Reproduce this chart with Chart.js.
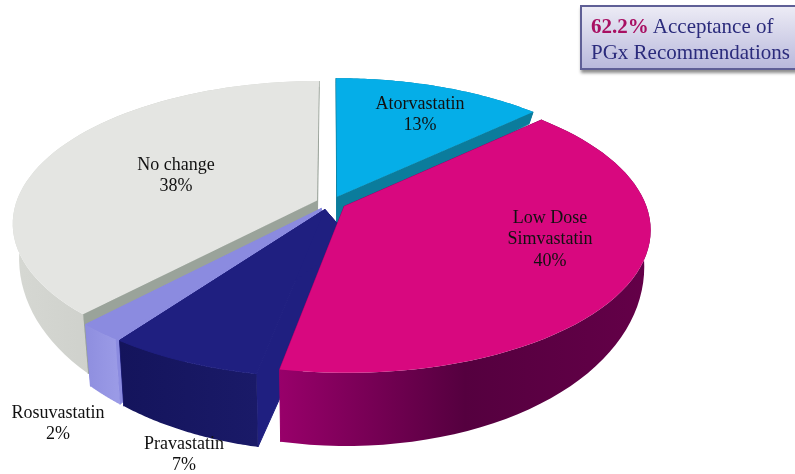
<!DOCTYPE html>
<html>
<head>
<meta charset="utf-8">
<script src="https://cdn.jsdelivr.net/npm/chart.js@4"></script>
<style>
  html, body { margin: 0; padding: 0; background: #fff; overflow: hidden; }
  #wrap { position: relative; width: 795px; height: 474px; }
  #callout {
    position: absolute; left: 580px; top: 5px; width: 225px; height: 65px;
    border: 1px solid #5f5f96; border-width: 2px 1px 2px 2px;
    background: linear-gradient(#ecebf5, #b9b9dc);
    box-shadow: 1px 3px 3px rgba(0,0,0,.45);
    font: 21px/26px "Liberation Serif", serif; color: #2b2b7c;
    padding-left: 9px; box-sizing: border-box; padding-top: 6px; white-space: nowrap;
  }
  #callout b { color: #a80f62; }
</style>
</head>
<body>
<div id="wrap">
  <canvas id="grafica_quesitos" width="795" height="474"></canvas>
  <div id="callout"><b>62.2%</b> Acceptance of<br>PGx Recommendations</div>
</div>
<script>
/*-----Datos-----*/
const categorias = ['Atorvastatin', 'Low Dose Simvastatin', 'Pravastatin', 'Rosuvastatin', 'No change'];
const valores = [13, 40, 7, 2, 38];

/*-----Colores-----*/
const colores = ['#05aee8', '#d8087f', '#1f1f80', '#8b8be0', '#e4e5e2'];
const coloresPared = [
  ['#0b7c9c', '#0b7c9c'],
  ['#98006a', '#55003f', '#640048'],
  ['#14145c', '#1a1a68'],
  ['#8e8edf', '#9a9ae6'],
  ['#d6d8d3', '#c8cac5', '#dcddd9']
];
const coloresLado = ['#0b7c9c', '#98006a', '#1f1f80', '#8b8be0', '#9aa39a'];

/*-----Etiquetas: líneas y posición-----*/
const etiquetas = [
  { lineas: ['Atorvastatin', '13%'], x: 420, y: 104 },
  { lineas: ['Low Dose', 'Simvastatin', '40%'], x: 550, y: 218 },
  { lineas: ['Pravastatin', '7%'], x: 184, y: 444 },
  { lineas: ['Rosuvastatin', '2%'], x: 58, y: 413 },
  { lineas: ['No change', '38%'], x: 176, y: 165 }
];

/*-----Perspectiva del queso-----*/
const ESCALA_X = 1.483, ESCALA_Y = 0.685, FUGA = 0.158, SEPARA = 0.05;
const ORDEN = [4, 0, 3, 2, 1]; // de atrás hacia delante
const AJUSTE_APICE = [0, 0, 26, 0, 0];

function altoPared(Y) {
  return Y > 0 ? 28 + 44 * Y : 28 + 22 * Y;
}

function proyecta(el, X, Y, abajo) {
  const w = 1 - FUGA * Y;
  const r = el.outerRadius;
  return {
    x: el.x + r * ESCALA_X * X / w * (abajo ? 0.98 : 1),
    y: el.y + r * ESCALA_Y * Y / w + (abajo ? altoPared(Y) : 0)
  };
}

function relleno(ctx, puntos, color, tapar) {
  ctx.beginPath();
  puntos.forEach((p, i) => i ? ctx.lineTo(p.x, p.y) : ctx.moveTo(p.x, p.y));
  ctx.closePath();
  ctx.fillStyle = color;
  ctx.fill();
  if (tapar) { // tapa la costura con la pared
    ctx.strokeStyle = color;
    ctx.lineWidth = 1;
    ctx.stroke();
  }
}

const queso3d = {
  id: 'queso3d',
  beforeDatasetDraw(chart) {
    const ctx = chart.ctx;
    const arcos = chart.getDatasetMeta(0).data;
    ctx.save();
    ORDEN.forEach(i => {
      const el = arcos[i];
      const medio = (el.startAngle + el.endAngle) / 2;
      const ox = SEPARA * Math.cos(medio), oy = SEPARA * Math.sin(medio);
      const borde = [];
      for (let s = 0; s <= 60; s++) {
        const a = el.startAngle + (el.endAngle - el.startAngle) * s / 60;
        borde.push([ox + Math.cos(a), oy + Math.sin(a)]);
      }
      const arriba = borde.map(q => proyecta(el, q[0], q[1], false));
      const abajo = borde.map(q => proyecta(el, q[0], q[1], true));
      const c0 = proyecta(el, ox, oy, false), c1 = proyecta(el, ox, oy, true);
      c1.x += AJUSTE_APICE[i];

      // paredes radiales
      relleno(ctx, [c0, arriba[0], abajo[0], c1], coloresLado[i], true);
      relleno(ctx, [c0, arriba[60], abajo[60], c1], coloresLado[i], true);

      // pared exterior
      const xs = arriba.map(p => p.x);
      const g = ctx.createLinearGradient(Math.min(...xs), 0, Math.max(...xs), 0);
      coloresPared[i].forEach((c, n, t) => g.addColorStop(n / (t.length - 1), c));
      relleno(ctx, arriba.concat(abajo.slice().reverse()), g);

      // cara superior
      relleno(ctx, [c0].concat(arriba), el.options.backgroundColor, i === 2);
    });

    // etiquetas
    ctx.fillStyle = '#111';
    ctx.font = '18px "Liberation Serif", serif';
    ctx.textAlign = 'center';
    ctx.textBaseline = 'middle';
    etiquetas.forEach(e => e.lineas.forEach((l, n) => ctx.fillText(l, e.x, e.y + n * 21.5)));
    ctx.restore();
    return false;
  }
};

/*-----Grafica de Quesitos-----*/
const grafica_quesitos = document.getElementById('grafica_quesitos');

new Chart(grafica_quesitos, {
  type: 'pie',
  data: {
    labels: categorias,
    datasets: [{
      data: valores,
      backgroundColor: colores,
      borderWidth: 0
    }]
  },
  options: {
    responsive: false,
    animation: false,
    layout: { padding: { right: 133, bottom: 68 } },
    plugins: {
      legend: { display: false },
      tooltip: { enabled: false }
    }
  },
  plugins: [queso3d]
});
</script>
</body>
</html>
